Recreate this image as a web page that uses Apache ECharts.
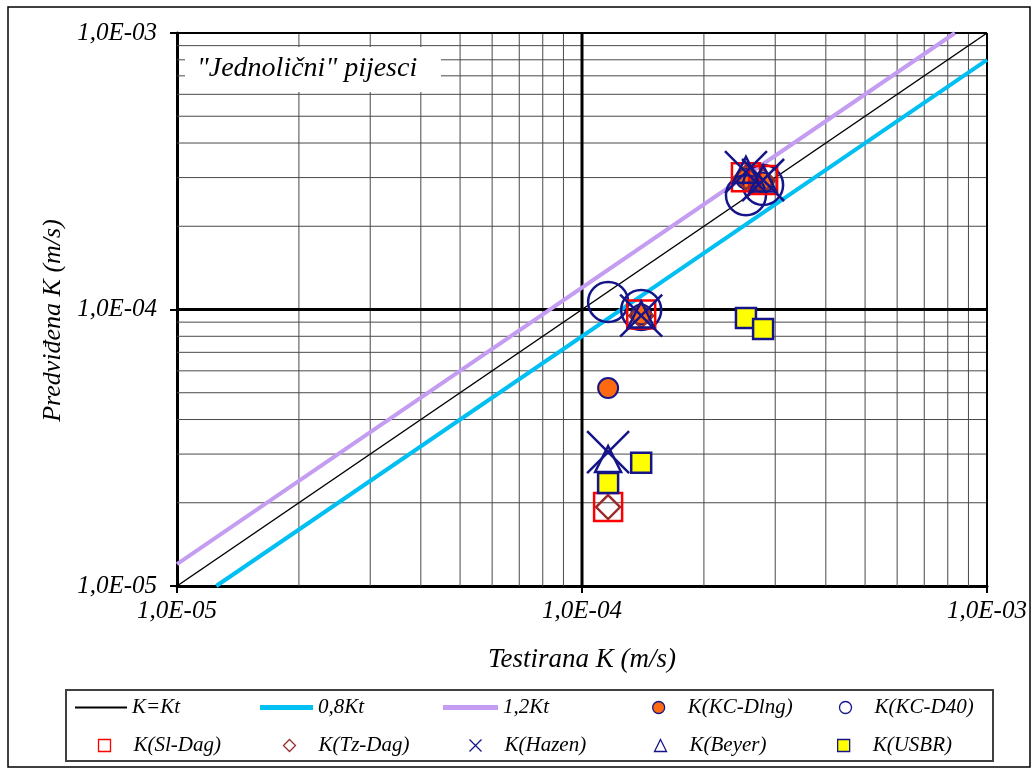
<!DOCTYPE html>
<html>
<head>
<meta charset="utf-8">
<script src="https://cdn.jsdelivr.net/npm/echarts@6/dist/echarts.min.js"></script>
<style>
html,body{margin:0;padding:0;background:#fff;}
#chart{width:1035px;height:769px;}
</style>
</head>
<body>
<div id="chart"></div>
<script>
// ---- data ----
const tickValues = [1e-5, 1e-4, 1e-3];
const tickLabels = ['1,0E-05', '1,0E-04', '1,0E-03'];
const minorGrid = [2e-5,3e-5,4e-5,5e-5,6e-5,7e-5,8e-5,9e-5,2e-4,3e-4,4e-4,5e-4,6e-4,7e-4,8e-4,9e-4];
const majorGrid = [1e-4, 1e-3];

// tested K (x) for each sample
const testedK = [1.16e-4, 1.40e-4, 2.54e-4, 2.80e-4];
// predicted K per method
const kcDlng = [5.2e-5, 9.6e-5, 2.98e-4, 2.88e-4];
const kcD40  = [1.065e-4, 9.96e-5, 2.59e-4, 2.82e-4];
const slDag  = [1.93e-5, 9.6e-5, 3.01e-4, 2.94e-4];
const tzDag  = [1.93e-5, 9.5e-5, 3.0e-4, 2.92e-4];
const hazen  = [3.05e-5, 9.5e-5, 3.14e-4, 2.94e-4];
const beyer  = [2.88e-5, 9.6e-5, 3.2e-4, 2.98e-4];
const usbr   = [2.36e-5, 2.79e-5, 9.31e-5, 8.5e-5];

// reference lines (endpoints)
const lineKt   = [[1e-5, 1e-5], [1e-3, 1e-3]];
const line08Kt = [[1.25e-5, 1e-5], [1e-3, 8e-4]];
const line12Kt = [[1e-5, 1.2e-5], [8.333e-4, 1e-3]];

const chartTitle = '"Jednolični" pijesci';
const xName = 'Testirana K (m/s)';
const yName = 'Predviđena K (m/s)';

// ---- chart ----
const FONT = 'Liberation Serif';
const NAVY = '#15158a';
const AXMIN = 1e-5, AXMAX = 1e-3;
const pts = arr => arr.map((v, i) => [testedK[i], v]);
const fmt = v => {
  for (let i = 0; i < tickValues.length; i++) {
    if (Math.abs(Math.log10(v) - Math.log10(tickValues[i])) < 1e-6) return tickLabels[i];
  }
  return '';
};
const xSymbol = 'path://M0,0L10,10M10,0L0,10';

const chart = echarts.init(document.getElementById('chart'), null, {renderer: 'canvas'});

function gridLine(v, vertical, color, width) {
  return {
    type: 'line', silent: true, z: 2, symbol: 'none', showSymbol: false,
    data: vertical ? [[v, AXMIN], [v, AXMAX]] : [[AXMIN, v], [AXMAX, v]],
    lineStyle: {color, width, type: 'solid'}, emphasis: {disabled: true},
    tooltip: {show: false}
  };
}
const gridSeries = [];
minorGrid.forEach(v => { gridSeries.push(gridLine(v, true, '#4a4a4a', 1)); gridSeries.push(gridLine(v, false, '#4a4a4a', 1)); });
majorGrid.forEach(v => {
  const w = v === 1e-4 ? 3 : 2;
  gridSeries.push(gridLine(v, true, '#000', w));
  gridSeries.push(gridLine(v, false, '#000', w));
});

function lineS(name, data, color, width) {
  return {name, type: 'line', data, symbol: 'none', showSymbol: false, z: 3,
    lineStyle: {color, width}, itemStyle: {color}, emphasis: {disabled: true}};
}
function scat(name, data, symbol, size, fill, stroke, bw) {
  return {name, type: 'scatter', data: pts(data), symbol, symbolSize: size, z: 4,
    itemStyle: {color: fill, borderColor: stroke, borderWidth: bw, opacity: 1},
    emphasis: {disabled: true}};
}

const series = gridSeries.concat([
  lineS('K=Kt', lineKt, '#000000', 1.5),
  lineS('0,8Kt', line08Kt, '#00bff2', 4),
  lineS('1,2Kt', line12Kt, '#c49cf2', 4),
  scat('K(KC-Dlng)', kcDlng, 'circle', 20, '#ff6a10', NAVY, 2),
  scat('K(KC-D40)', kcD40, 'circle', 40, 'none', NAVY, 2.5),
  scat('K(Sl-Dag)', slDag, 'rect', 28, 'none', '#ff0000', 2.5),
  scat('K(Tz-Dag)', tzDag, 'diamond', 24, 'none', '#9b2c2c', 2.5),
  scat('K(Hazen)', hazen, xSymbol, 42, 'none', NAVY, 2.5),
  scat('K(Beyer)', beyer, 'triangle', 26, 'none', NAVY, 2.5),
  scat('K(USBR)', usbr, 'rect', 20, '#ffff00', NAVY, 2.5)
]);

const legendText = {fontFamily: FONT, fontStyle: 'italic', fontSize: 21, color: '#000'};
const LEG_OFF = 10;
function legLine(name, left, rowC, w, h) {
  return {
    data: [name], left, top: rowC - LEG_OFF, padding: 0, itemGap: 0,
    icon: 'rect', itemWidth: w, itemHeight: h, selectedMode: false,
    textStyle: Object.assign({}, legendText)
  };
}
function legSym(name, cx, rowC) {
  return {
    data: [name], left: cx - 6, top: rowC - LEG_OFF, padding: 0, itemGap: 0,
    itemWidth: 12, itemHeight: 12, selectedMode: false,
    itemStyle: {borderWidth: 1.3},
    textStyle: Object.assign({}, legendText, {padding: [0, 0, 0, 18]})
  };
}
const R1 = 707, R2 = 745;
const legends = [
  legLine('K=Kt', 75, R1, 52, 2),
  legLine('0,8Kt', 260, R1, 53, 5),
  legLine('1,2Kt', 443, R1, 55, 5),
  legSym('K(KC-Dlng)', 658, R1),
  legSym('K(KC-D40)', 843, R1),
  legSym('K(Sl-Dag)', 102, R2),
  legSym('K(Tz-Dag)', 287, R2),
  legSym('K(Hazen)', 473, R2),
  legSym('K(Beyer)', 658, R2),
  legSym('K(USBR)', 843, R2)
];

const axisCommon = {
  type: 'log', logBase: 10, min: AXMIN, max: AXMAX, splitNumber: 2,
  axisLine: {show: true, lineStyle: {color: '#000', width: 3}},
  axisTick: {show: true, inside: false, length: 7, lineStyle: {color: '#000', width: 2}},
  splitLine: {show: false},
  minorTick: {show: false}, minorSplitLine: {show: false},
  nameLocation: 'middle'
};
const labelStyle = {formatter: fmt, fontFamily: FONT, fontStyle: 'italic', fontSize: 25, color: '#000'};

chart.setOption({
  animation: false,
  backgroundColor: '#fff',
  grid: {left: 177, right: 48, top: 33, bottom: 183, containLabel: false},
  xAxis: Object.assign({}, axisCommon, {
    name: xName, nameGap: 60,
    nameTextStyle: {fontFamily: FONT, fontStyle: 'italic', fontSize: 27, color: '#000'},
    axisLabel: Object.assign({}, labelStyle, {margin: 13})
  }),
  yAxis: Object.assign({}, axisCommon, {
    name: yName, nameGap: 111, nameRotate: 90,
    nameTextStyle: {fontFamily: FONT, fontStyle: 'italic', fontSize: 26, color: '#000', padding: [0, 22, 0, 0]},
    axisLabel: Object.assign({}, labelStyle, {margin: 20})
  }),
  legend: legends,
  series,
  graphic: [
    {type: 'rect', z: 100, silent: true, shape: {x: 8, y: 7, width: 1022, height: 760},
      style: {fill: 'none', stroke: '#000', lineWidth: 1.5}},
    {type: 'rect', z: 100, silent: true, shape: {x: 66, y: 690, width: 927, height: 71},
      style: {fill: 'none', stroke: '#404040', lineWidth: 2}},
    {type: 'rect', z: 100, silent: true, shape: {x: 185, y: 47, width: 256, height: 45},
      style: {fill: '#fff', stroke: 'none'}},
    {type: 'text', z: 101, silent: true, left: 197, top: 55,
      style: {text: chartTitle, fontFamily: FONT, fontStyle: 'italic', fontSize: 28, fill: '#000'}}
  ]
});
</script>
</body>
</html>
